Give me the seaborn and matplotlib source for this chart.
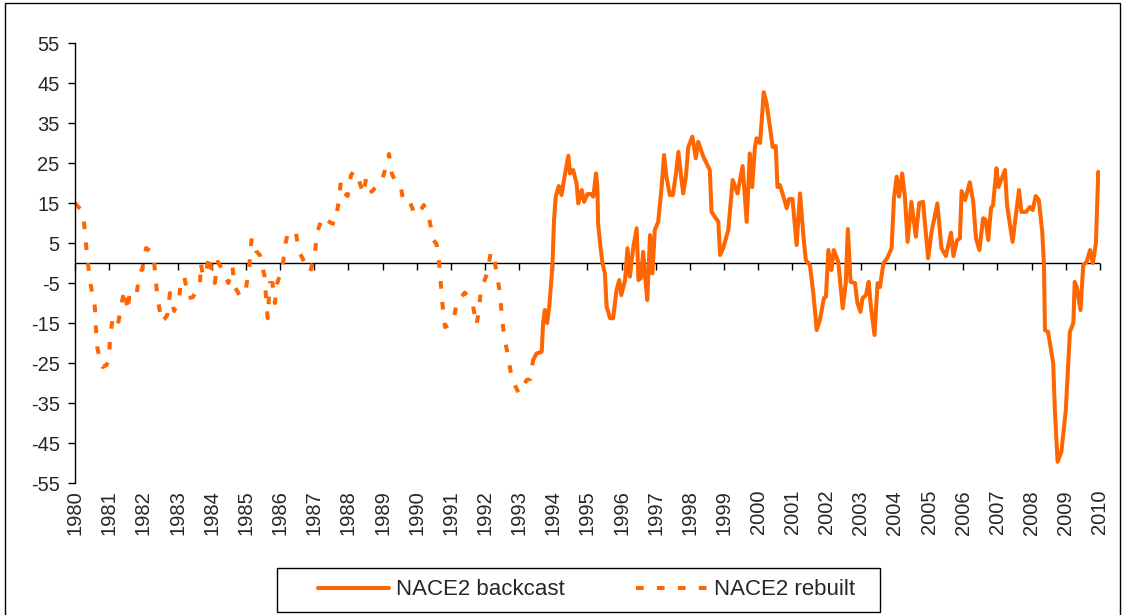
import pandas as pd
import seaborn as sns
import matplotlib.pyplot as plt
from matplotlib.patches import Rectangle

# NACE2 rebuilt (dashed), decimal years
rebuilt_x = [1980.00, 1980.05, 1980.15, 1980.22, 1980.26, 1980.32, 1980.38, 1980.46, 1980.58, 1980.61,
             1980.65, 1980.75, 1980.81, 1980.92, 1981.00, 1981.02, 1981.10, 1981.20, 1981.27, 1981.38,
             1981.46, 1981.54, 1981.60, 1981.70, 1981.80, 1981.87, 1981.97, 1982.08, 1982.20, 1982.31,
             1982.36, 1982.43, 1982.54, 1982.62, 1982.70, 1982.78, 1982.90, 1983.04, 1983.10, 1983.20,
             1983.32, 1983.45, 1983.55, 1983.66, 1983.68, 1983.73, 1983.81, 1983.93, 1984.00, 1984.09,
             1984.18, 1984.27, 1984.35, 1984.49, 1984.61, 1984.67, 1984.75, 1984.83, 1984.99, 1985.09,
             1985.17, 1985.30, 1985.41, 1985.55, 1985.59, 1985.64, 1985.70, 1985.78, 1985.85, 1985.92,
             1986.08, 1986.15, 1986.22, 1986.35, 1986.46, 1986.56, 1986.70, 1986.88, 1987.02, 1987.07,
             1987.14, 1987.25, 1987.39, 1987.50, 1987.61, 1987.71, 1987.78, 1987.87, 1987.98, 1988.08,
             1988.17, 1988.26, 1988.44, 1988.52, 1988.68, 1988.80, 1988.97, 1989.12, 1989.19, 1989.27,
             1989.40, 1989.54, 1989.61, 1989.70, 1989.80, 1989.95, 1990.10, 1990.21, 1990.37, 1990.49,
             1990.58, 1990.66, 1990.71, 1990.76, 1990.83, 1990.95, 1991.07, 1991.17, 1991.30, 1991.41,
             1991.55, 1991.64, 1991.75, 1991.82, 1991.88, 1992.07, 1992.17, 1992.25, 1992.34, 1992.44,
             1992.49, 1992.56, 1992.68, 1992.78, 1992.99, 1993.10, 1993.22, 1993.32, 1993.41]
rebuilt_y = [15, 14.5, 13.5, 12, 10.3, 4.75, -0.25, -5.5, -11, -16,
             -21, -25, -26, -25.5, -24, -19, -14, -13, -14.7, -9.3,
             -6.7, -12, -7.5, -7.5, -8, -3.4, -1.3, 3.75, 3, 1,
             -4.25, -9.5, -14.7, -14, -13, -7.5, -12, -9.4, -4.25, -3.5,
             -8.8, -8.5, -7, -5, 0, -2.4, -3.4, 2, -2.4, -5,
             0.3, -1, -2.4, -5, -1, -6, -7, -8.4, -7, -1.75,
             6.2, 3, 2, -3.4, -8.5, -13.8, -5, -5, -10, -5,
             -0.75, 4.5, 7.2, 8, 7.8, 2.8, 0.5, -2.2, 2, 7,
             9, 11.6, 10.6, 10, 9.75, 14.9, 20.3, 17.6, 16.75, 22,
             23, 22, 17.25, 21.2, 17.8, 19, 20.3, 24.5, 27.25, 22.4,
             20, 18.9, 15.3, 15.5, 15.3, 12, 13, 14.5, 10.9, 5.75,
             4.75, -0.3, -5.5, -10.75, -16, -15.5, -14.7, -10, -8.5, -7.4,
             -9, -10.3, -15.5, -12, -6.75, -2.4, 2.8, 2, -2.4, -7.6,
             -13, -18.4, -23.4, -28.8, -32.6, -31, -29.25, -29, -24.25]

# NACE2 backcast (solid)
backcast_x = [1993.41, 1993.51, 1993.66, 1993.70, 1993.75, 1993.82, 1993.88, 1993.95, 1993.98, 1994.02,
              1994.07, 1994.16, 1994.24, 1994.31, 1994.44, 1994.49, 1994.58, 1994.68, 1994.73, 1994.83,
              1994.90, 1995.00, 1995.10, 1995.17, 1995.25, 1995.29, 1995.31, 1995.38, 1995.44, 1995.51,
              1995.56, 1995.66, 1995.75, 1995.85, 1995.93, 1995.99, 1996.10, 1996.17, 1996.24, 1996.34,
              1996.44, 1996.49, 1996.56, 1996.63, 1996.68, 1996.75, 1996.83, 1996.90, 1996.97, 1997.07,
              1997.17, 1997.24, 1997.31, 1997.41, 1997.50, 1997.59, 1997.66, 1997.73, 1997.80, 1997.88,
              1997.95, 1998.07, 1998.17, 1998.24, 1998.39, 1998.58, 1998.63, 1998.83, 1998.88, 1998.97,
              1999.12, 1999.25, 1999.39, 1999.54, 1999.66, 1999.75, 1999.82, 1999.90, 1999.95, 2000.05,
              2000.16, 2000.24, 2000.34, 2000.42, 2000.51, 2000.56, 2000.63, 2000.75, 2000.83, 2000.90,
              2001.00, 2001.12, 2001.22, 2001.33, 2001.39, 2001.51, 2001.61, 2001.71, 2001.80, 2001.92,
              2001.98, 2002.05, 2002.14, 2002.21, 2002.34, 2002.47, 2002.56, 2002.62, 2002.70, 2002.83,
              2002.90, 2002.99, 2003.05, 2003.15, 2003.23, 2003.29, 2003.40, 2003.49, 2003.56, 2003.66,
              2003.77, 2003.90, 2003.97, 2004.05, 2004.12, 2004.21, 2004.29, 2004.37, 2004.48, 2004.61,
              2004.71, 2004.82, 2004.97, 2005.07, 2005.24, 2005.36, 2005.49, 2005.64, 2005.71, 2005.81,
              2005.90, 2005.95, 2006.05, 2006.19, 2006.29, 2006.37, 2006.47, 2006.58, 2006.65, 2006.73,
              2006.81, 2006.87, 2006.97, 2007.03, 2007.22, 2007.28, 2007.44, 2007.63, 2007.70, 2007.84,
              2007.95, 2008.03, 2008.12, 2008.21, 2008.31, 2008.36, 2008.39, 2008.48, 2008.63, 2008.68,
              2008.76, 2008.87, 2009.00, 2009.12, 2009.22, 2009.26, 2009.32, 2009.43, 2009.51, 2009.61,
              2009.71, 2009.79, 2009.88, 2009.95, 2010.00]
backcast_y = [-24.25, -22.6, -22.2, -15, -11.75, -15, -10.9, -3.4, 0.75, 10.75,
              16.6, 19.25, 17, 20.75, 26.8, 22.4, 23.25, 19.9, 14.9, 18.25,
              15.3, 17.25, 17.25, 16.6, 22.4, 19, 9.9, 4, -0.1, -2.6,
              -10.9, -13.8, -13.8, -6.75, -4.25, -8, -4.25, 3.7, -3.4, 4,
              8.7, -4.25, -3.8, 2.8, -2.6, -9.25, 7, -2.6, 8.25, 10.3,
              19, 27, 21.6, 17, 17, 22.4, 27.8, 22.4, 17.4, 21.6,
              29, 31.6, 26.2, 30.3, 26.6, 23.25, 12.8, 10.3, 2, 3.7,
              8.25, 20.75, 17.4, 24.25, 10.3, 27.4, 19, 29, 31.2, 30,
              42.7, 40, 34, 29, 29.25, 19, 19.5, 16.2, 13.7, 16,
              16, 4.5, 17.4, 5.75, 0.75, -0.5, -7.6, -16.75, -14.25, -8.8,
              -8.4, 3.25, -1.75, 3.25, 0.3, -11.3, -5, 8.5, -4.7, -5,
              -10, -12.2, -8.8, -8, -4.7, -10.5, -18, -5, -6, -0.1,
              1.2, 3.7, 16.2, 21.6, 16.6, 22.4, 16.6, 5.3, 15.3, 6.6,
              15, 15.3, 1.2, 7.8, 14.9, 3.7, 1.75, 7.6, 1.75, 5.6,
              6.2, 18, 15.75, 20.2, 15.3, 6.2, 3.25, 11.2, 10.9, 5.75,
              13.7, 14.5, 23.7, 19, 23.25, 14.5, 5.3, 18.25, 12.8, 12.8,
              14, 13.25, 16.75, 15.75, 7.8, -0.5, -16.75, -17.2, -25, -37,
              -49.7, -47.2, -36.75, -17.2, -15, -4.7, -6, -11.75, -0.5, 0.3,
              3.25, 0, 4.9, 22.8, 20]

years = list(range(1980, 2011))
y_ticks = list(range(-55, 56, 10))
series_names = ['NACE2 backcast', 'NACE2 rebuilt']

df = pd.concat([
    pd.DataFrame({'date': backcast_x, 'value': backcast_y, 'series': series_names[0]}),
    pd.DataFrame({'date': rebuilt_x, 'value': rebuilt_y, 'series': series_names[1]}),
])

sns.set_style('white')
plt.rcParams['font.family'] = ['Liberation Sans', 'DejaVu Sans']
plt.rcParams['axes.unicode_minus'] = False

orange = '#FF6600'
fig = plt.figure(figsize=(11.23, 6.15), dpi=100)
ax = fig.add_axes([0.0668, 0.2146, 0.9127, 0.7154])

sns.lineplot(data=df, x='date', y='value', hue='series', style='series',
             palette={n: orange for n in series_names},
             dashes={series_names[0]: '', series_names[1]: (1.9, 3.3)},
             estimator=None, linewidth=2.9, ax=ax)

handles, labels = ax.get_legend_handles_labels()
ax.get_legend().remove()

ax.axhline(0, color='black', linewidth=1, zorder=1)
ax.set_xlim(1980, 2010)
ax.set_ylim(-55, 55)
ax.set_yticks(y_ticks)
ax.set_xticks(years)
ax.set_xlabel('')
ax.set_ylabel('')

for s in ['top', 'right']:
    ax.spines[s].set_visible(False)
ax.spines['bottom'].set_position(('data', 0))
ax.spines['bottom'].set_visible(False)
ax.spines['left'].set_color('black')
ax.spines['left'].set_linewidth(1)
ax.tick_params(axis='x', bottom=True, direction='out', length=5, width=1,
               color='black', labelbottom=False)
ax.tick_params(axis='y', left=True, direction='out', length=5, width=1,
               color='black', labelsize=14.5, pad=6)

# year labels sit at the bottom of the plot area
sec = ax.secondary_xaxis(0)
sec.set_xticks(years)
sec.set_xticklabels([str(y) for y in years], rotation=90)
sec.tick_params(axis='x', length=0, labelsize=14.5, pad=5)
sec.spines['bottom'].set_visible(False)

fig.legend(handles, labels, loc='center', bbox_to_anchor=(0.5223, 0.0407),
           ncol=2, frameon=False, fontsize=16, handlelength=3.2,
           handletextpad=0.3, columnspacing=3.2)

fig.patches.append(Rectangle((277 / 1123, 3 / 615), 603 / 1123, 44 / 615,
                             transform=fig.transFigure, fill=False,
                             edgecolor='black', linewidth=1))
fig.patches.append(Rectangle((5 / 1123, -0.01), 1115 / 1123, 1.01 - 3 / 615,
                             transform=fig.transFigure, fill=False,
                             edgecolor='black', linewidth=1))

fig.savefig('out.png', dpi=100)
